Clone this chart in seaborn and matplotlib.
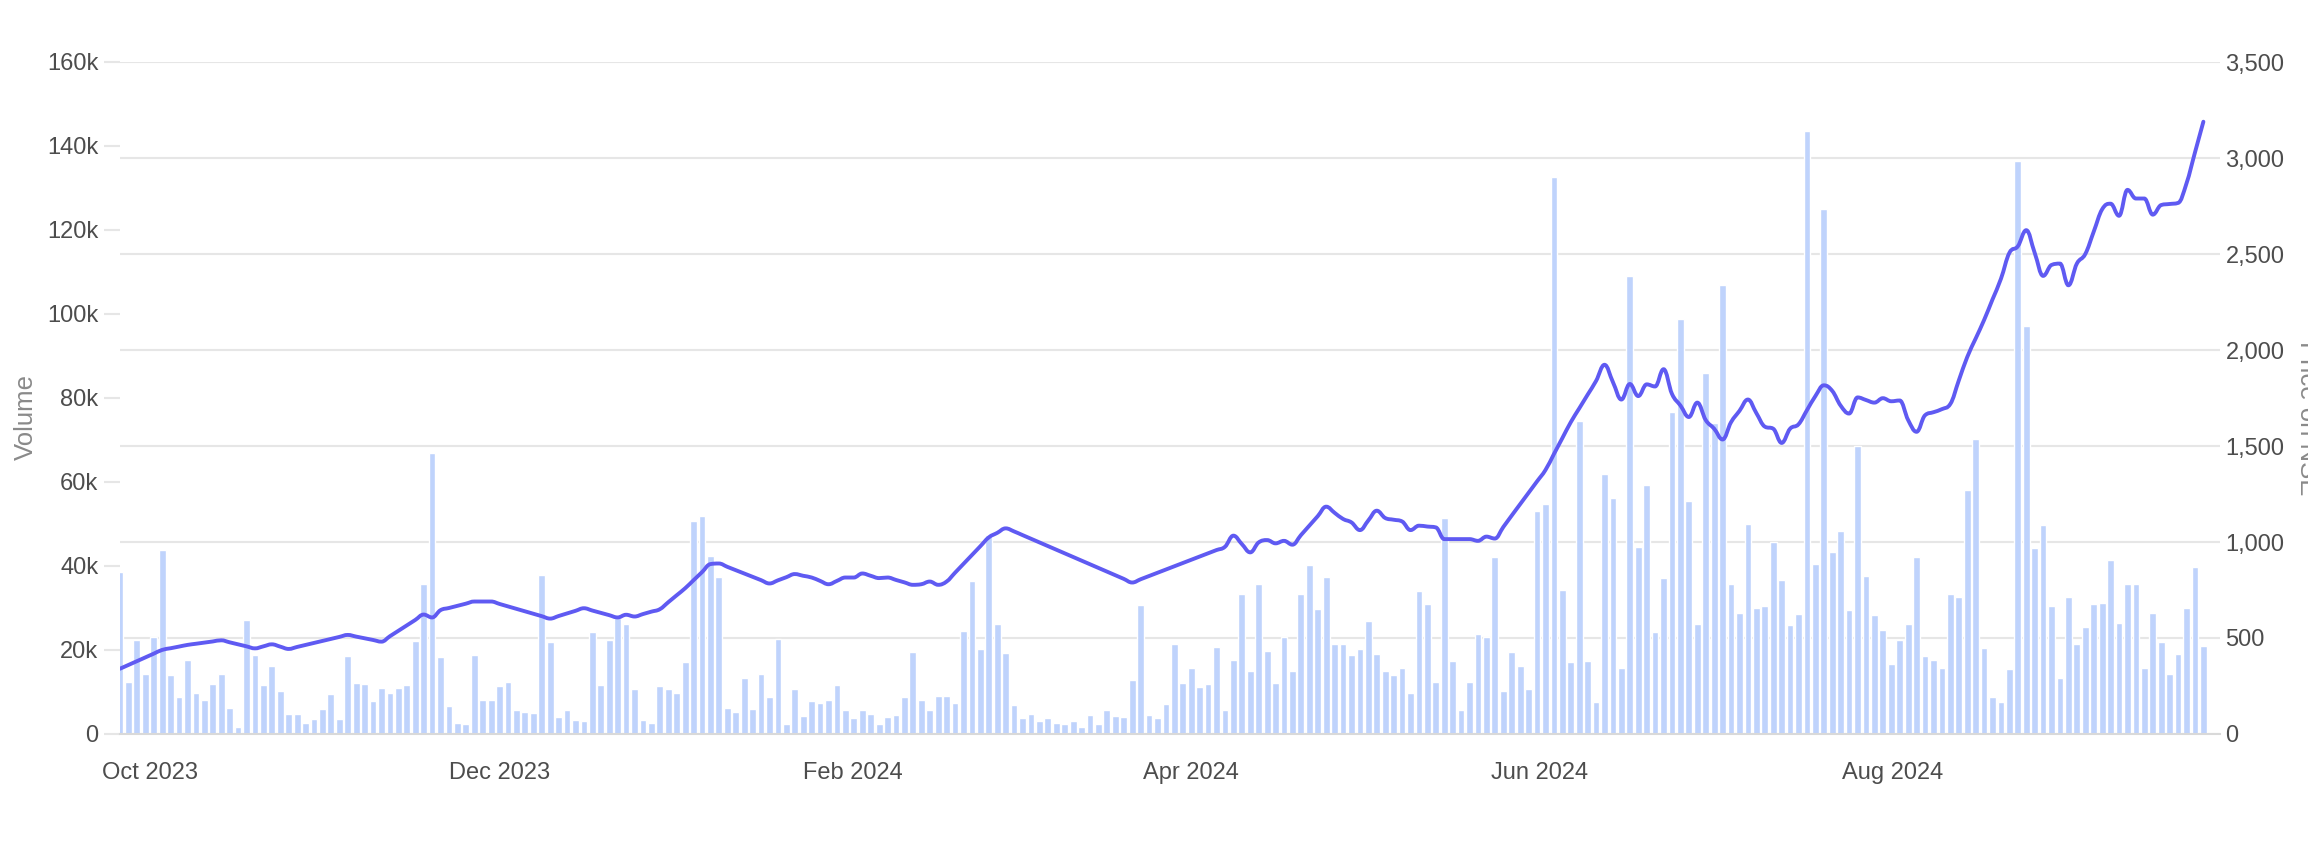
import numpy as np
import pandas as pd
import matplotlib.pyplot as plt
from matplotlib.path import Path
from matplotlib.patches import PathPatch
import seaborn as sns

# daily traded volume (thousands), one bar per trading day
volume_k = [38.6, 12.3, 22.5, 14.3, 23.2, 43.7, 14.0, 8.9, 17.6, 9.8,
            8.2, 11.9, 14.4, 6.3, 1.7, 27.1, 18.7, 11.7, 16.1, 10.3,
            4.8, 4.8, 2.6, 3.5, 6.0, 9.6, 3.5, 18.6, 12.1, 11.9,
            7.9, 11.0, 9.8, 11.0, 11.7, 22.1, 35.6, 67.0, 18.3, 6.7,
            2.7, 2.3, 18.7, 8.2, 8.2, 11.5, 12.5, 5.6, 5.3, 5.0,
            37.9, 21.9, 4.0, 5.6, 3.4, 3.0, 24.4, 11.7, 22.5, 27.6,
            26.3, 10.8, 3.4, 2.6, 11.5, 10.8, 9.8, 17.2, 50.6, 51.9,
            42.4, 37.5, 6.1, 5.2, 13.4, 5.9, 14.4, 8.7, 22.7, 2.5,
            10.8, 4.4, 7.8, 7.5, 8.2, 11.7, 5.8, 3.9, 5.8, 4.8,
            2.5, 4.0, 4.6, 8.9, 19.6, 8.2, 5.8, 9.0, 9.0, 7.4,
            24.5, 36.4, 20.3, 47.4, 26.3, 19.3, 7.0, 3.7, 4.7, 3.2,
            3.7, 2.6, 2.5, 3.2, 1.6, 4.6, 2.3, 5.7, 4.4, 4.0,
            12.9, 30.7, 4.5, 3.9, 7.1, 21.4, 12.1, 15.6, 11.1, 11.8,
            20.6, 5.6, 17.7, 33.4, 14.9, 35.8, 19.7, 12.1, 23.1, 15.0,
            33.3, 40.2, 29.8, 37.5, 21.4, 21.5, 18.9, 20.2, 26.9, 19.1,
            15.0, 14.1, 15.8, 9.8, 34.1, 31.0, 12.5, 51.5, 17.5, 5.6,
            12.4, 23.9, 23.2, 42.2, 10.2, 19.5, 16.1, 10.8, 53.1, 54.8,
            132.7, 34.2, 17.2, 74.6, 17.4, 7.7, 62.0, 56.2, 15.8, 109.1,
            44.6, 59.4, 24.4, 37.2, 76.6, 98.8, 55.4, 26.3, 85.9, 74.0,
            107.0, 35.6, 28.7, 50.1, 30.0, 30.4, 45.7, 36.6, 26.0, 28.6,
            143.6, 40.5, 124.9, 43.3, 48.4, 29.6, 68.6, 37.6, 28.3, 24.8,
            16.6, 22.5, 26.1, 42.2, 18.6, 17.6, 15.7, 33.4, 32.7, 58.2,
            70.3, 20.5, 8.7, 7.7, 15.5, 136.5, 97.2, 44.3, 49.7, 30.5,
            13.3, 32.7, 21.4, 25.5, 31.0, 31.3, 41.5, 26.5, 35.6, 35.6,
            15.6, 28.9, 21.9, 14.3, 19.0, 30.1, 39.8, 20.9]

# closing price on NSE, only on the days where the series has a point
price_day = [0, 5, 8, 12, 16, 18, 20, 27, 31, 36, 37, 38, 42, 44, 51, 55,
             59, 60, 61, 64, 67, 70, 71, 77, 80, 82, 84, 86, 87, 88, 90, 91,
             94, 95, 96, 97, 98, 103, 105, 106, 120, 131, 132, 134, 135, 136,
             137, 138, 139, 143, 145, 146, 147, 149, 150, 152, 153, 154, 156,
             157, 160, 161, 162, 163, 165, 169, 172, 175, 176, 178, 179, 180,
             181, 182, 183, 184, 186, 187, 188, 189, 190, 191, 193, 195, 196,
             197, 198, 199, 201, 202, 203, 204, 205, 206, 208, 209, 210, 211,
             212, 213, 214, 216, 217, 219, 221, 223, 224, 225, 226, 227, 228,
             229, 230, 231, 232, 233, 235, 236, 237, 238, 239, 240, 241, 242,
             244, 245, 247]
price = [340, 438, 464, 488, 446, 467, 443, 516, 481, 622, 607, 645, 690, 690, 601, 655,
         607, 621, 612, 650, 759, 885, 888, 784, 833, 815, 780, 815, 815, 836, 812, 815,
         777, 780, 794, 777, 794, 1024, 1071, 1055, 789, 975, 1033, 946, 998, 1010,
         993, 1006, 986, 1184, 1120, 1102, 1062, 1163, 1125, 1107, 1062, 1085, 1076,
         1015, 1015, 1006, 1028, 1018, 1138, 1375, 1624, 1839, 1923, 1742, 1823, 1760,
         1821, 1810, 1900, 1771, 1651, 1726, 1635, 1590, 1534, 1624, 1742, 1601, 1590,
         1516, 1590, 1613, 1760, 1816, 1787, 1710, 1669, 1753, 1726, 1749, 1733, 1737,
         1635, 1574, 1660, 1692, 1719, 1963, 2156, 2371, 2506, 2540, 2624, 2506, 2386,
         2443, 2450, 2337, 2450, 2500, 2733, 2762, 2699, 2834, 2789, 2789, 2705, 2755,
         2766, 2868, 3189]

month_labels = ['Oct 2023', 'Dec 2023', 'Feb 2024', 'Apr 2024', 'Jun 2024', 'Aug 2024']
month_pos = [3.5, 45.0, 86.9, 127.0, 168.3, 210.1]

vol = pd.DataFrame({'day': np.arange(len(volume_k)), 'volume': np.array(volume_k) * 1000})
px = pd.DataFrame({'day': price_day, 'price': price})


def spline_path(xs, ys, s=1.5):
    # smooth bezier stroke through the points; corners are rounded over about
    # one day, so long gaps stay straight like in the original chart
    P = np.column_stack([np.asarray(xs, float), np.asarray(ys, float)])
    n = len(P)
    d = s + 1
    steps = [(P[i + 1] - P[i]) / (P[i + 1, 0] - P[i, 0]) for i in range(n - 1)]
    lc = [p.copy() for p in P]
    rc = [p.copy() for p in P]
    for i in range(1, n - 1):
        x, y = P[i]
        vl = P[i] - steps[i - 1]
        vr = P[i] + steps[i]
        lx, ly = (s * x + vl[0]) / d, (s * y + vl[1]) / d
        rx, ry = (s * x + vr[0]) / d, (s * y + vr[1]) / d
        corr = (ry - ly) * (rx - x) / (rx - lx) + y - ry
        ly += corr
        ry += corr
        if ly > vl[1] and ly > y:
            ly = max(vl[1], y); ry = 2 * y - ly
        elif ly < vl[1] and ly < y:
            ly = min(vl[1], y); ry = 2 * y - ly
        if ry > vr[1] and ry > y:
            ry = max(vr[1], y); ly = 2 * y - ry
        elif ry < vr[1] and ry < y:
            ry = min(vr[1], y); ly = 2 * y - ry
        lc[i] = np.array([lx, ly])
        rc[i] = np.array([rx, ry])
    verts = [tuple(P[0])]
    codes = [Path.MOVETO]
    for i in range(n - 1):
        g = P[i + 1, 0] - P[i, 0]
        st = steps[i]
        if g <= 1:
            verts += [tuple(rc[i]), tuple(lc[i + 1]), tuple(P[i + 1])]
            codes += [Path.CURVE4] * 3
            continue
        a = P[i] + st
        b = P[i + 1] - st
        verts += [tuple(rc[i]), tuple(a - st / d), tuple(a)]
        codes += [Path.CURVE4] * 3
        if g > 2:
            verts.append(tuple(b))
            codes.append(Path.LINETO)
        verts += [tuple(b + st / d), tuple(lc[i + 1]), tuple(P[i + 1])]
        codes += [Path.CURVE4] * 3
    return Path(verts, codes)


sns.set_style('white')
plt.rcParams['font.family'] = ['Liberation Sans', 'DejaVu Sans']

BAR = '#bfd3fc'
LINE = '#5f5af2'
GRID = '#e6e6e6'
TXT = '#4d4d4d'

fig = plt.figure(figsize=(23.08, 8.44), dpi=100)
ax = fig.add_axes([120 / 2308, 1 - 734 / 844, 2100 / 2308, 672 / 844])

# price gridlines sit behind the bars, so draw them on the volume axis
vmax, pmax = 160000, 3500
for p in range(0, pmax + 1, 500):
    ax.axhline(p * vmax / pmax, color=GRID, lw=1.5, zorder=0)

sns.barplot(data=vol, x='day', y='volume', native_scale=True, color=BAR,
            saturation=1, width=0.8, ax=ax, zorder=2)
ax.set_xlim(0, 248.97)
ax.set_ylim(0, vmax)
ax.set_yticks(range(0, vmax + 1, 20000))
ax.set_yticklabels(['0'] + ['%dk' % (v // 1000) for v in range(20000, vmax + 1, 20000)])
ax.set_xticks(month_pos)
ax.set_xticklabels(month_labels)
ax.set_xlabel('')
ax.set_ylabel('')
ax.tick_params(axis='y', length=11.5, width=1.5, color=GRID, pad=4, labelsize=17, labelcolor=TXT)
ax.tick_params(axis='x', length=11.5, width=1.5, color='#d9d9d9', pad=9, labelsize=17, labelcolor=TXT)
for s in ['top', 'right', 'left']:
    ax.spines[s].set_visible(False)
ax.spines['bottom'].set_color('#d9d9d9')
ax.spines['bottom'].set_linewidth(1.5)

ax2 = ax.twinx()
# seaborn sets up the price axis; the visible stroke is the smoothed path
sns.lineplot(data=px, x='day', y='price', color=LINE, lw=0, ax=ax2)
ax2.add_patch(PathPatch(spline_path(px['day'], px['price']), fill=False,
                        edgecolor=LINE, lw=2.8, capstyle='round', joinstyle='round'))
ax2.set_xlim(0, 248.97)
ax2.set_ylim(0, pmax)
ax2.set_yticks(range(0, pmax + 1, 500))
ax2.set_yticklabels(['{:,}'.format(v) for v in range(0, pmax + 1, 500)])
ax2.tick_params(axis='y', length=0, pad=4, labelsize=17, labelcolor=TXT)
ax2.set_ylabel('')
for s in ax2.spines.values():
    s.set_visible(False)

fig.text(26 / 2308, 1 - 417 / 844, 'Volume', rotation=90, ha='center', va='center',
         fontsize=18.5, color='#8a8a8a')
fig.text(2295 / 2308, 1 - 418 / 844, 'Price on NSE', rotation=270, ha='left', va='center',
         fontsize=18.5, color='#8a8a8a')

plt.savefig('out.png', dpi=100)
